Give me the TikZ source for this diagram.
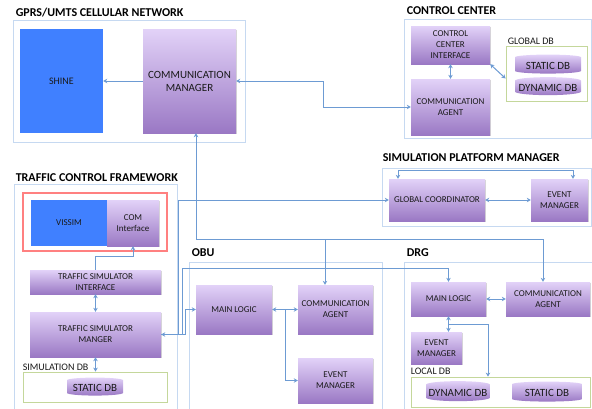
\documentclass[tikz,border=0pt]{standalone}
\usepackage{fontspec}
\setmainfont{Carlito}
\usetikzlibrary{arrows.meta,shapes.geometric,shadows}
\definecolor{linkblue}{HTML}{6D9BD3}
\definecolor{grpline}{HTML}{C6D9F1}
\definecolor{dbgreen}{HTML}{C4D79B}
\definecolor{appblue}{HTML}{4080FF}
\definecolor{modtop}{HTML}{E2D2F8}
\definecolor{modbot}{HTML}{9A78C4}
\definecolor{txtgrey}{HTML}{1A1A1A}

\begin{document}
\begin{tikzpicture}[x=1pt, y=-1pt,
  font=\fontsize{9}{11}\selectfont, text=txtgrey,
  >={Stealth[length=4pt, width=4.5pt]},
  mod/.style={rectangle, top color=modtop, bottom color=modbot, align=center, inner sep=1pt,
    drop shadow={shadow xshift=0.8pt, shadow yshift=-0.8pt, fill=black!40, opacity=0.4}},
  app/.style={rectangle, fill=appblue, align=center, font=\fontsize{10}{12}\selectfont},
  db/.style={cylinder, shape border rotate=90, aspect=0.12, top color=modtop, bottom color=modbot,
    inner sep=0pt, font=\fontsize{11}{13}\selectfont},
  grp/.style={rectangle, draw=grpline, line width=0.8pt},
  store/.style={rectangle, draw=dbgreen, line width=0.8pt},
  simframe/.style={rectangle, draw=red!50, line width=1.2pt},
  ttl/.style={anchor=base west, inner sep=0pt, text=black, font=\fontsize{12}{14}\selectfont\bfseries},
  tag/.style={anchor=base west, inner sep=0pt, font=\fontsize{10}{12}\selectfont},
  link/.style={linkblue, line width=1pt},
]
\useasboundingbox (0,0) rectangle (592,408);

% GPRS/UMTS network
\node[grp, minimum width=232pt, minimum height=122pt] (gprs) at (129,81) {};
\node[ttl] (gprst) at ([xshift=3pt,yshift=3pt]gprs.north west) {GPRS/UMTS CELLULAR NETWORK};
\node[app, minimum width=83pt, minimum height=104pt] (shine) at (61.5,81) {SHINE};
\node[mod, minimum width=93pt, minimum height=104pt, font=\fontsize{11}{13}\selectfont] (cm) at (189.5,81) {COMMUNICATION\\MANAGER};

% Control center
\node[grp, minimum width=187pt, minimum height=119pt] (cc) at (497.5,78.5) {};
\node[ttl] (cct) at ([xshift=3pt,yshift=4pt]cc.north west) {CONTROL CENTER};
\node[mod, minimum width=79pt, minimum height=38pt] (cci) at (450.5,45) {CONTROL\\CENTER\\INTERFACE};
\node[mod, minimum width=79pt, minimum height=56pt] (cca) at (450.5,107) {COMMUNICATION\\AGENT};
\node[store, minimum width=81pt, minimum height=55pt] (gdb) at (546.5,73.5) {};
\node[tag] (gdbt) at ([xshift=2pt,yshift=1.5pt]gdb.north west) {GLOBAL DB};
\node[db, minimum width=66pt, minimum height=19pt] (gsdb) at (548,65.5) {STATIC DB};
\node[db, minimum width=66pt, minimum height=18pt] (gddb) at (548,88) {DYNAMIC DB};

% Simulation platform manager
\node[grp, minimum width=209pt, minimum height=58pt] (spm) at (486.5,197) {};
\node[ttl] (spmt) at ([xshift=1pt,yshift=6pt]spm.north west) {SIMULATION PLATFORM MANAGER};
\node[mod, minimum width=96pt, minimum height=42pt] (gc) at (437,200) {GLOBAL COORDINATOR};
\node[mod, minimum width=57pt, minimum height=42pt] (spmem) at (559.5,200) {EVENT\\MANAGER};

% Traffic control framework
\node[grp, minimum width=163pt, minimum height=226pt] (tcf) at (95.5,297) {};
\node[ttl] (tcft) at ([xshift=2pt,yshift=2.5pt]tcf.north west) {TRAFFIC CONTROL FRAMEWORK};
\node[simframe, minimum width=144pt, minimum height=58pt] (sim) at (95,222) {};
\node[app, minimum width=76pt, minimum height=46pt, font=\fontsize{9}{11}\selectfont] (vissim) at (69,223) {VISSIM};
\node[mod, minimum width=52pt, minimum height=46pt] (com) at (133,223) {COM\\Interface};
\node[mod, minimum width=131pt, minimum height=24pt] (tsi) at (95.5,282) {TRAFFIC SIMULATOR\\INTERFACE};
\node[mod, minimum width=131pt, minimum height=45pt] (tsm) at (95.5,334.5) {TRAFFIC SIMULATOR\\MANGER};
\node[store, minimum width=144pt, minimum height=30pt] (sdb) at (95,387) {};
\node[tag] (sdbt) at ([yshift=1.5pt]sdb.north west) {SIMULATION DB};
\node[db, minimum width=56pt, minimum height=18pt] (ssdb) at (95,388) {STATIC DB};

% OBU
\node[grp, minimum width=193pt, minimum height=148pt] (obu) at (285.5,336) {};
\node[ttl] (obut) at ([xshift=3pt,yshift=5pt]obu.north west) {OBU};
\node[mod, minimum width=76pt, minimum height=49pt] (obuml) at (234,309.5) {MAIN LOGIC};
\node[mod, minimum width=75pt, minimum height=49pt] (obuca) at (335.5,309.5) {COMMUNICATION\\AGENT};
\node[mod, minimum width=75pt, minimum height=45pt] (obuem) at (335.5,380.5) {EVENT\\MANAGER};

% DRG
\node[grp, minimum width=189pt, minimum height=148pt] (drg) at (498.5,336) {};
\node[ttl] (drgt) at ([xshift=3pt,yshift=5pt]drg.north west) {DRG};
\node[mod, minimum width=75pt, minimum height=34pt] (drgml) at (448.5,299) {MAIN LOGIC};
\node[mod, minimum width=84pt, minimum height=34pt] (drgca) at (548,299) {COMMUNICATION\\AGENT};
\node[mod, minimum width=51pt, minimum height=32pt] (drgem) at (436.5,348) {EVENT\\MANAGER};
\node[store, minimum width=179pt, minimum height=30pt] (ldb) at (500.5,392) {};
\node[tag] (ldbt) at ([yshift=2pt]ldb.north west) {LOCAL DB};
\node[db, minimum width=64pt, minimum height=20pt] (lddb) at (458,393) {DYNAMIC DB};
\node[db, minimum width=70pt, minimum height=20pt] (lsdb) at (547,393) {STATIC DB};

% links inside the groups
\draw[link, ->] (cm.west) -- (shine.east);
\draw[link, <->] (cci.south) -- (cca.north);
\draw[link, <->] (cci.south east) -- ([yshift=-5pt]gdb.west);
\draw[link, <->] (gc.east) -- (spmem.west);
\draw[link, <->] ([xshift=-39pt]gc.north) -- ++(0,-8) -| ([xshift=13.5pt]spmem.north);
\draw[link, ->] (tsi.north) -- ++(0,-13) -| (com.south);
\draw[link, <->] (tsi.south) -- (tsm.north);
\draw[link, <->] (tsm.south) -- (sdb.north -| tsm.south);
\draw[link, <->] (obuml.east) -- (obuca.west);
\draw[link, ->] (obuml.east) ++(13,0) |- (obuem.west);
\draw[link, <->] (drgml.east) -- (drgca.west);
\draw[link, <->] (drgml.south) -- (drgml.south |- drgem.north);
\draw[link, ->] ([yshift=-8pt]drgml.south) -| ([xshift=-12.5pt]ldb.north);

% communication manager <-> control center
\draw[link, <->] (cm.east) -- ++(87,0) |- (cca.west);

% cellular bus down to the agents
\coordinate (bus) at (196,239);
\coordinate (obutap) at ([xshift=-10.5pt]obuca.north);
\draw[link, ->] (bus) -- ([xshift=6.5pt]cm.south);
\draw[link, ->] (bus) -| ([xshift=-5pt]drgca.north);
\draw[link, <-] (obutap) -- (obutap |- bus);

% simulator manager to the coordinator and main logics
\draw[link, <->] (tsm.east) -- ++(17,0) |- (gc.west);
\draw[link, ->] (tsm.east) -- ++(21,0) -- ++(0,-66) -| (drgml.north);
\draw[link, ->] (tsm.east) -- ++(24,0) |- (obuml.west);
\end{tikzpicture}
\end{document}
